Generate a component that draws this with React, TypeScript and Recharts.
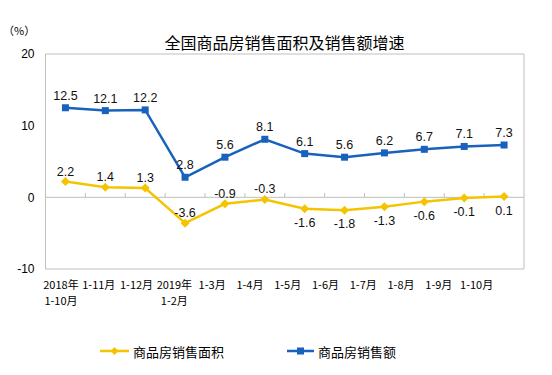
import React from 'react';
import {
  LineChart, Line, XAxis, YAxis, ReferenceLine, ReferenceArea, LabelList, Legend,
} from 'recharts';

const categories = [
  '2018年\n1-10月', '1-11月', '1-12月', '2019年\n1-2月', '1-3月', '1-4月',
  '1-5月', '1-6月', '1-7月', '1-8月', '1-9月', '1-10月',
];
const areaGrowth = [2.2, 1.4, 1.3, -3.6, -0.9, -0.3, -1.6, -1.8, -1.3, -0.6, -0.1, 0.1];
const salesGrowth = [12.5, 12.1, 12.2, 2.8, 5.6, 8.1, 6.1, 5.6, 6.2, 6.7, 7.1, 7.3];
const yTicks = [-10, 0, 10, 20];
const seriesNames = { area: '商品房销售面积', sales: '商品房销售额' };
const titleText = '全国商品房销售面积及销售额增速';
const unitText = '（%）';

const data = categories.map((cat, i) => ({ cat, area: areaGrowth[i], sales: salesGrowth[i] }));
const boundaryCats = categories.slice(1);

const BLUE = '#1862BE';
const YELLOW = '#F5C400';
const GRID = '#BFBFBF';
const CJK = '"Noto Sans CJK SC", "Noto Sans", sans-serif';
const SANS = '"Liberation Sans", Arial, sans-serif';

const SquareDot = (props: any) => {
  const { cx, cy } = props;
  if (cx == null || cy == null) return null;
  return <rect x={cx - 3.5} y={cy - 3.5} width={7} height={7} fill={BLUE} />;
};
const DiamondDot = (props: any) => {
  const { cx, cy } = props;
  if (cx == null || cy == null) return null;
  return <polygon points={`${cx},${cy - 4.5} ${cx + 4.5},${cy} ${cx},${cy + 4.5} ${cx - 4.5},${cy}`} fill={YELLOW} />;
};

const BlueLabel = (props: any) => {
  const { x, y, value } = props;
  return (
    <text x={x} y={y - 8} textAnchor="middle" fontFamily={SANS} fontSize={12.5} fill="#111">
      {value}
    </text>
  );
};
const YellowLabel = (props: any) => {
  const { x, y, value, index } = props;
  const below = index >= 6;
  return (
    <text x={x} y={below ? y + 18 : y - 6} textAnchor="middle" fontFamily={SANS} fontSize={12.5} fill="#111">
      {value}
    </text>
  );
};

const CatTick = (props: any) => {
  const { x, y, payload } = props;
  const lines = String(payload.value).split('\n');
  return (
    <text x={x} y={y} textAnchor="middle" fontFamily={CJK} fontSize={11} fill="#000">
      {lines.map((l, i) => (
        <tspan key={i} x={x} dy={i === 0 ? 12 : 16}>{l}</tspan>
      ))}
    </text>
  );
};

const LegendContent = () => (
  <div style={{ position: 'relative', width: 552, height: 20, fontFamily: CJK, fontSize: 13, color: '#000' }}>
    <div style={{ position: 'absolute', left: 100, top: 0, display: 'flex', alignItems: 'center', height: 20 }}>
      <svg width={29} height={10}>
        <line x1={0} y1={5} x2={29} y2={5} stroke={YELLOW} strokeWidth={2.5} />
        <polygon points="14.5,1 18.5,5 14.5,9 10.5,5" fill={YELLOW} />
      </svg>
      <span style={{ marginLeft: 4 }}>{seriesNames.area}</span>
    </div>
    <div style={{ position: 'absolute', left: 287, top: 0, display: 'flex', alignItems: 'center', height: 20 }}>
      <svg width={27} height={10}>
        <line x1={0} y1={5} x2={27} y2={5} stroke={BLUE} strokeWidth={2.5} />
        <rect x={10} y={1.5} width={7} height={7} fill={BLUE} />
      </svg>
      <span style={{ marginLeft: 4 }}>{seriesNames.sales}</span>
    </div>
  </div>
);

export default function App() {
  return (
    <div style={{ position: 'absolute', left: 0, top: 0, width: 552, height: 375, background: '#fff' }}>
      <div style={{ position: 'absolute', left: 0, top: 33, width: 569, textAlign: 'center', fontFamily: CJK, fontSize: 16, lineHeight: '18px', color: '#000' }}>
        {titleText}
      </div>
      <div style={{ position: 'absolute', left: 3, top: 23, fontFamily: CJK, fontSize: 11, lineHeight: '14px', color: '#000' }}>
        {unitText}
      </div>
      <LineChart width={552} height={375} data={data} margin={{ top: 54, right: 28, bottom: 66, left: 5.5 }}>
        <XAxis
          xAxisId="lab"
          dataKey="cat"
          scale="band"
          interval={0}
          axisLine={false}
          tickLine={false}
          height={40}
          padding={{ left: -3.4, right: 28.5 }}
          tick={<CatTick />}
        />
        <XAxis dataKey="cat" scale="band" hide height={0} />
        <YAxis
          domain={[-10, 20]}
          ticks={yTicks}
          width={40}
          axisLine={false}
          tickLine={false}
          tickMargin={5}
          tick={{ fontFamily: SANS, fontSize: 12, fill: '#000' }}
          interval={0}
        />
        <ReferenceArea x1={categories[0]} x2={categories[categories.length - 1]} y1={-10} y2={20} fill="none" stroke={GRID} strokeWidth={1} />
        <ReferenceLine y={0} stroke={GRID} strokeWidth={1} />
        {boundaryCats.map((c) => (
          <ReferenceLine key={c} position="start" segment={[{ x: c, y: 0 }, { x: c, y: 0.6 }]} stroke={GRID} strokeWidth={1} />
        ))}
        <Legend verticalAlign="middle" align="center" layout="horizontal" wrapperStyle={{ top: 341, left: 0, width: 552 }} content={<LegendContent />} />
        <Line type="linear" dataKey="area" name={seriesNames.area} stroke={YELLOW} strokeWidth={2.5} dot={<DiamondDot />} isAnimationActive={false}>
          <LabelList dataKey="area" content={<YellowLabel />} />
        </Line>
        <Line type="linear" dataKey="sales" name={seriesNames.sales} stroke={BLUE} strokeWidth={2.5} dot={<SquareDot />} isAnimationActive={false}>
          <LabelList dataKey="sales" content={<BlueLabel />} />
        </Line>
      </LineChart>
    </div>
  );
}
